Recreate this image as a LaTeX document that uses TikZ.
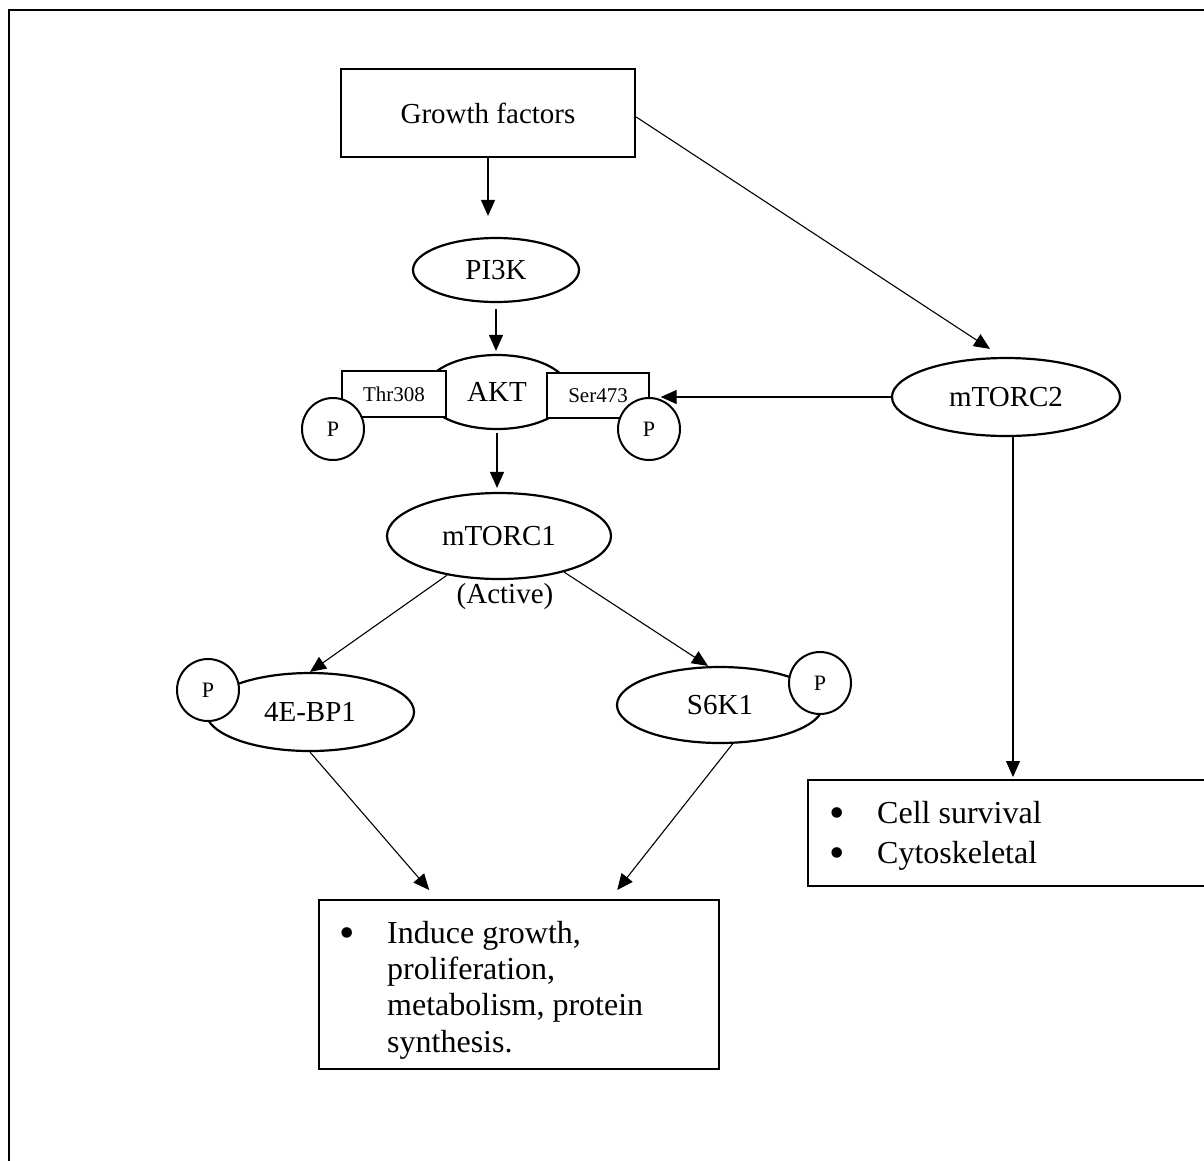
\documentclass[tikz,border=0pt]{standalone}
\usepackage{fontspec}
\setmainfont{Liberation Serif}
\usetikzlibrary{shapes.geometric,arrows.meta}
\newcommand{\labfont}{\fontsize{29}{33}\selectfont}
\newcommand{\smfont}{\fontsize{21}{24}\selectfont}
\newcommand{\pfont}{\fontsize{22}{25}\selectfont}
\newcommand{\bulfont}{\fontsize{32}{36.5}\selectfont}
\newcommand{\bigbulfont}{\fontsize{44}{48}\selectfont}
\begin{document}
\begin{tikzpicture}[x=1pt,y=-1pt,
  shp/.style={draw, line width=2.2pt, fill=white, inner sep=0pt},
  ell/.style={shp, ellipse, font=\labfont},
  site/.style={draw, line width=1.4pt, fill=white, inner sep=0pt, font=\smfont},
  pcirc/.style={draw, line width=2pt, fill=white, circle, inner sep=0pt, minimum size=62pt, font=\pfont},
  arr/.style={-{Triangle[length=16pt,width=14pt]}, line width=1.1pt},
  bul/.style={anchor=base, inner sep=0pt, font=\bigbulfont},
  txt/.style={anchor=base west, inner sep=0pt, font=\bulfont}]
\useasboundingbox (0,0) rectangle (1204,1160);
\clip (0,0) rectangle (1204,1160);
\fill[white] (0,0) rectangle (1204,1160);
% outer frame
\draw[line width=2.4pt] (9,10) rectangle (1240,1200);

% nodes
\node[shp, line width=2.4pt, minimum width=294pt, minimum height=88pt, font=\labfont] (gf) at (488,113) {Growth factors};
\node[ell, minimum width=166pt, minimum height=64pt] (pi3k) at (496,270) {PI3K};
\node[ell, minimum width=146pt, minimum height=74pt] (akt) at (497,392) {AKT};
\node[site, minimum width=104pt, minimum height=46pt] (thr) at (394,394) {Thr308};
\node[site, minimum width=102pt, minimum height=45pt] (ser) at (598,395.5) {Ser473};
\node[pcirc] (pl) at (333,429) {P};
\node[pcirc] (pr) at (649,429) {P};
\node[ell, minimum width=228pt, minimum height=78pt] (mtorc2) at (1006,397) {mTORC2};
\node[ell, minimum width=224pt, minimum height=86pt] (mtorc1) at (499,536) {mTORC1};
\node[font=\labfont, inner sep=0pt] (active) at (505,597) {(Active)};
\node[ell, minimum width=208pt, minimum height=78pt] (ebp) at (310,712) {4E-BP1};
\node[pcirc] (pe) at (208,690) {P};
\node[ell, minimum width=206pt, minimum height=76pt] (s6k) at (720,705) {S6K1};
\node[pcirc] (ps) at (820,683) {P};

\node[shp, line width=2.4pt, anchor=north west, minimum width=430pt, minimum height=106pt] (cell) at (807,779) {};
\node[bul] (cb1) at (837,827) {•};
\node[txt] (ct1) at (877,823) {Cell survival};
\node[bul] (cb2) at (837,867) {•};
\node[txt] (ct2) at (877,863) {Cytoskeletal};

\node[shp, line width=2.4pt, anchor=north west, minimum width=400pt, minimum height=169pt] (out) at (318,899) {};
\node[bul] (ob1) at (347,947) {•};
\node[txt] (ot1) at (387,943) {Induce growth,};
\node[txt] (ot2) at (387,979) {proliferation,};
\node[txt] (ot3) at (387,1015) {metabolism, protein};
\node[txt] (ot4) at (387,1052) {synthesis.};

% connectors
\draw[arr, shorten >=21pt] (gf.south) -- (gf.south |- pi3k.north);
\draw[arr, shorten <=6pt, shorten >=3pt] (pi3k.south) -- (pi3k.south |- akt.north);
\draw[arr, shorten <=3pt, shorten >=4pt] (akt.south) -- (akt.south |- mtorc1.north);
\draw[arr] (mtorc1.217) -- (ebp.north);
\draw[arr] (mtorc1.331) -- ([xshift=-12pt]s6k.north);
\draw[arr] (ebp.south) -- ([xshift=-90pt,yshift=9pt]out.north);
\draw[arr] (s6k.288) -- ([xshift=98pt,yshift=9pt]out.north);
\draw[arr] ([yshift=-4pt]gf.east) -- ([xshift=-16pt,yshift=8pt]mtorc2.north);
\draw[arr, shorten >=11pt] (mtorc2.west) -- (mtorc2.west -| ser.east);
\draw[arr, shorten >=2pt] ([xshift=7pt]mtorc2.south) -- ([xshift=7pt]mtorc2.south |- cell.north);
\end{tikzpicture}
\end{document}
